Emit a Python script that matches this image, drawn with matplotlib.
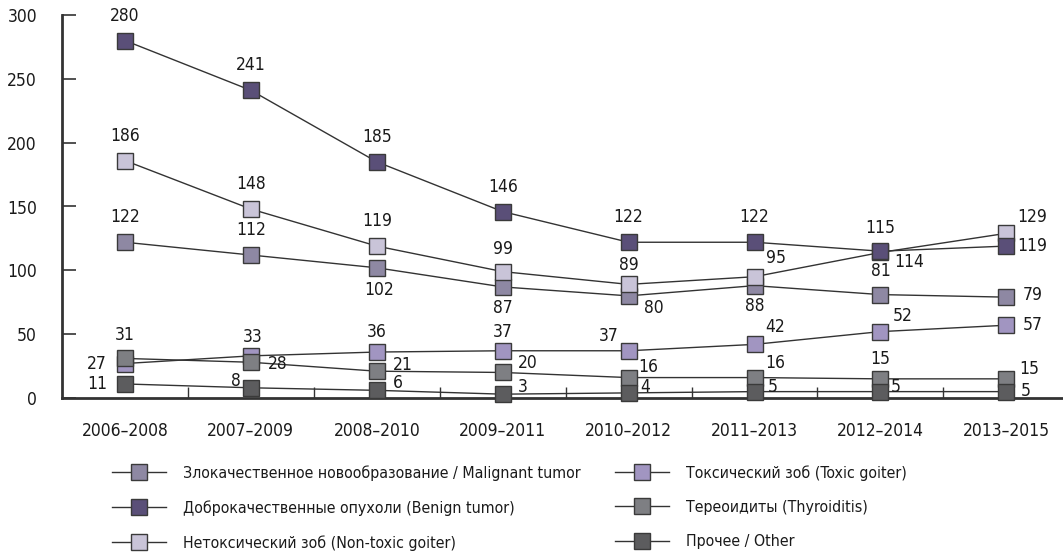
import matplotlib
matplotlib.use("Agg")
import matplotlib.pyplot as plt
from matplotlib.lines import Line2D

plt.rcParams['font.family'] = ['DejaVu Sans']
plt.rcParams['font.stretch'] = 'condensed'

periods = ["2006–2008", "2007–2009", "2008–2010", "2009–2011",
           "2010–2012", "2011–2013", "2012–2014", "2013–2015"]

malignant = [122, 112, 102, 87, 80, 88, 81, 79]
benign = [280, 241, 185, 146, 122, 122, 115, 119]
nontoxic = [186, 148, 119, 99, 89, 95, 114, 129]
toxic = [27, 33, 36, 37, 37, 42, 52, 57]
thyroiditis = [31, 28, 21, 20, 16, 16, 15, 15]
other = [11, 8, 6, 3, 4, 5, 5, 5]

names = ["Злокачественное новообразование / Malignant tumor",
         "Доброкачественные опухоли (Benign tumor)",
         "Нетоксический зоб (Non-toxic goiter)",
         "Токсический зоб (Toxic goiter)",
         "Тереоидиты (Thyroiditis)",
         "Прочее / Other"]

colors = ["#8e88a3", "#5a4f78", "#c9c4d8", "#a195c1", "#7e7f83", "#5c5c5e"]

A = (0, -25)
off_malignant = [A, A, (2, 22), (0, 21), (25, 12), (0, 20), (0, -24), (26, -2)]
off_benign = [A, A, A, A, A, A, (0, -23), (26, 0)]
off_nontoxic = [A, A, A, (0, -23), (0, -19), (21, -19), (29, 10), (26, -16)]
off_toxic = [(-28, 0), (2, -19), (0, -20), (0, -19), (-20, -15), (21, -17), (22, -16), (26, 0)]
off_thyroid = [(0, -23), (27, 2), (26, -6), (25, -9), (20, -11), (21, -15), (0, -20), (23, -10)]
off_other = [(-28, 0), (-15, -7), (21, -7), (20, -7), (17, -6), (18, -5), (15, -5), (19, -1)]

series = [malignant, benign, nontoxic, toxic, thyroiditis, other]
offsets = [off_malignant, off_benign, off_nontoxic, off_toxic, off_thyroid, off_other]
draw_order = [0, 3, 2, 1, 4, 5]

FS = 12.5
LFS = 11.4
fig = plt.figure(figsize=(10.63, 5.54), dpi=100)
ax = fig.add_axes([62 / 1063, (554 - 398) / 554, 1 - 62 / 1063, (398 - 15) / 554])

x = list(range(len(periods)))
for z, i in enumerate(draw_order):
    ax.plot(x, series[i], color="#333333", lw=1.0, marker="s", ms=12,
            mfc=colors[i], mec="#3a3a3a", mew=1.0, zorder=3 + z, clip_on=False)

for i in range(len(series)):
    for xi, v, (dx, dy) in zip(x, series[i], offsets[i]):
        ax.annotate(str(v), (xi, v), xytext=(dx * 0.72, -dy * 0.72),
                    textcoords="offset points", ha="center", va="center",
                    fontsize=FS, color="#1a1a1a", zorder=20)

ax.set_xlim(-0.5, 7.45)
ax.set_ylim(0, 300)
ax.set_yticks(range(0, 301, 50))
ax.set_xticks(x)
ax.set_xticklabels(periods)
ax.set_xticks([k + 0.5 for k in range(7)], minor=True)
ax.tick_params(axis="x", which="major", length=0, pad=17, labelsize=FS, labelcolor="#1a1a1a")
ax.tick_params(axis="x", which="minor", direction="in", length=8, width=1, color="#333333")
ax.tick_params(axis="y", direction="in", length=10, width=1.2, color="#333333",
               pad=18, labelsize=FS, labelcolor="#1a1a1a")
for s in ["top", "right"]:
    ax.spines[s].set_visible(False)
for s in ["left", "bottom"]:
    ax.spines[s].set_linewidth(2)
    ax.spines[s].set_color("#333333")

handles = []
for i in range(6):
    handles.append(Line2D([0], [0], color="#333333", lw=1.0, marker="s", ms=12,
                          mfc=colors[i], mec="#3a3a3a", mew=1.0))

common = dict(frameon=False, fontsize=LFS, handlelength=3.4, handletextpad=1.1,
              labelspacing=1.22, loc="upper left", borderaxespad=0, borderpad=0)
leg1 = fig.legend(handles[:3], names[:3], bbox_to_anchor=(112 / 1063, 1 - 465 / 554), **common)
leg2 = fig.legend(handles[3:], names[3:], bbox_to_anchor=(615 / 1063, 1 - 465 / 554), **common)
for leg in (leg1, leg2):
    for t in leg.get_texts():
        t.set_color("#1a1a1a")

fig.savefig("out.png", dpi=100)
